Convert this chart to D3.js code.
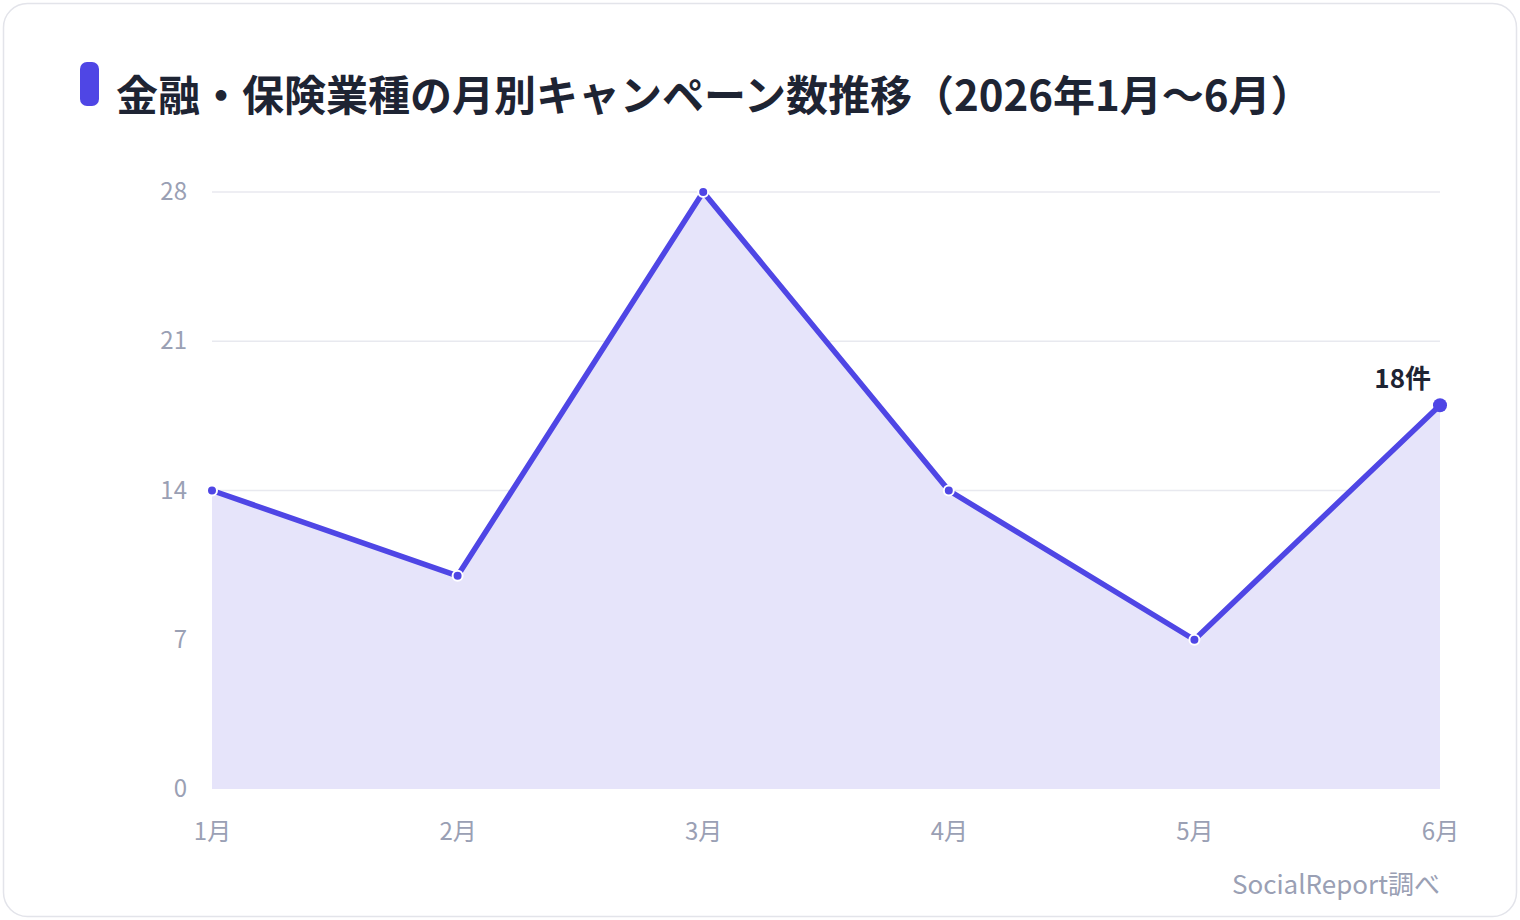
<!DOCTYPE html>
<html lang="ja">
<head>
<meta charset="utf-8">
<script src="https://cdn.jsdelivr.net/npm/d3@7"></script>
<style>
  html, body { margin: 0; padding: 0; background: #fff; }
  body { width: 1520px; height: 920px; overflow: hidden; font-family: "Noto Sans CJK JP", "Noto Sans", sans-serif; }
</style>
</head>
<body>
<svg id="chart" width="1520" height="920"></svg>
<script>
const months = ['1月', '2月', '3月', '4月', '5月', '6月'];
const campaigns = [14, 10, 28, 14, 7, 18];
const yTicks = [0, 7, 14, 21, 28];
const title = '金融・保険業種の月別キャンペーン数推移（2026年1月〜6月）';
const source = 'SocialReport調べ';
const unit = '件';

const W = 1520, H = 920;
const M = { top: 192, right: 80, bottom: 131, left: 212 };
const accent = '#4F46E5';

const svg = d3.select('#chart');

// Card frame.
svg.append('rect')
  .attr('x', 3.5).attr('y', 3.5).attr('width', W - 7).attr('height', H - 7)
  .attr('rx', 24).attr('fill', '#fff')
  .attr('stroke', '#E3E4EA').attr('stroke-width', 1.5);

// Title with accent bar.
svg.append('rect')
  .attr('x', 80).attr('y', 62).attr('width', 19).attr('height', 44)
  .attr('rx', 7).attr('fill', accent);
svg.append('text')
  .attr('x', 116).attr('y', 111)
  .attr('font-size', 42).attr('font-weight', 700).attr('fill', '#1E2433')
  .text(title);

const innerW = W - M.left - M.right;
const innerH = H - M.top - M.bottom;
const g = svg.append('g').attr('transform', `translate(${M.left},${M.top})`);

const x = d3.scalePoint().domain(months).range([0, innerW]);
const y = d3.scaleLinear().domain([0, 28]).range([innerH, 0]);

// Grid lines.
g.append('g')
  .selectAll('line')
  .data(yTicks.filter((t) => t > 0))
  .join('line')
  .attr('x1', 0).attr('x2', innerW)
  .attr('y1', (d) => y(d)).attr('y2', (d) => y(d))
  .attr('stroke', '#E8E9EF').attr('stroke-width', 1.5);

// Axes.
const yAxis = g.append('g')
  .call(d3.axisLeft(y).tickValues(yTicks).tickSize(0).tickPadding(25));
yAxis.select('.domain').remove();
yAxis.selectAll('text')
  .attr('font-family', '"Noto Sans CJK JP", sans-serif')
  .attr('font-size', 24).attr('fill', '#9AA0B4');

const xAxis = g.append('g')
  .attr('transform', `translate(0,${innerH})`)
  .call(d3.axisBottom(x).tickSize(0).tickPadding(34));
xAxis.select('.domain').remove();
xAxis.selectAll('text')
  .attr('font-family', '"Noto Sans CJK JP", sans-serif')
  .attr('font-size', 24).attr('fill', '#9AA0B4');

const points = months.map((m, i) => ({ m, v: campaigns[i] }));

// Opaque area fill covers the grid lines beneath it.
const area = d3.area().x((p) => x(p.m)).y0(innerH).y1((p) => y(p.v));
g.append('path').datum(points)
  .attr('d', area).attr('fill', '#E6E4FA');

const line = d3.line().x((p) => x(p.m)).y((p) => y(p.v));
g.append('path').datum(points)
  .attr('d', line).attr('fill', 'none')
  .attr('stroke', accent).attr('stroke-width', 5.5)
  .attr('stroke-linejoin', 'round');

const last = points.length - 1;
g.selectAll('circle')
  .data(points)
  .join('circle')
  .attr('cx', (p) => x(p.m)).attr('cy', (p) => y(p.v))
  .attr('r', (p, i) => (i === last ? 7 : 5))
  .attr('fill', accent)
  .attr('stroke', '#fff')
  .attr('stroke-width', (p, i) => (i === last ? 0 : 2));

// Latest value label.
g.append('text')
  .attr('x', x(points[last].m) - 9)
  .attr('y', y(points[last].v) - 17)
  .attr('text-anchor', 'end')
  .attr('font-size', 26).attr('font-weight', 700).attr('fill', '#1E2433')
  .text(points[last].v + unit);

// Source note.
svg.append('text')
  .attr('x', M.left + innerW).attr('y', 894)
  .attr('text-anchor', 'end')
  .attr('font-size', 26).attr('fill', '#9AA0B4')
  .text(source);
</script>
</body>
</html>
